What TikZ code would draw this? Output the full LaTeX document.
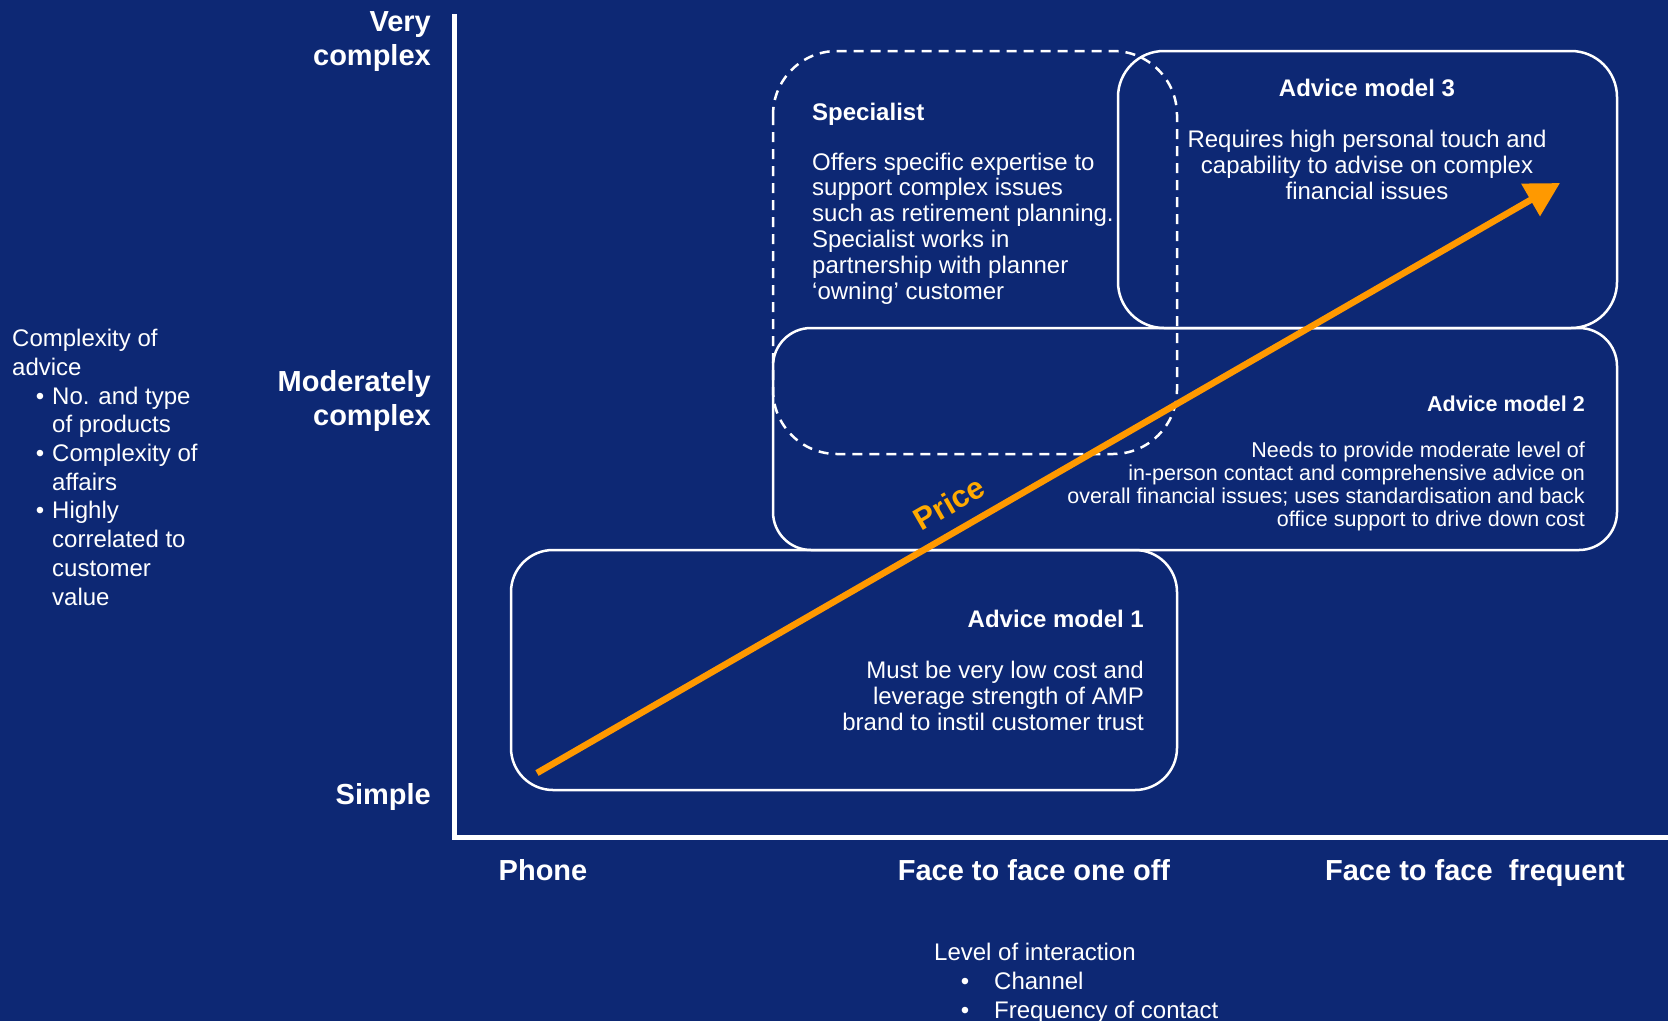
\documentclass[tikz,border=0pt]{standalone}
\usepackage{fontspec}
\setmainfont{Liberation Sans}
\usetikzlibrary{arrows.meta}

\definecolor{navy}{RGB}{13,40,116}
\definecolor{amber}{RGB}{255,153,0}
\definecolor{gold}{RGB}{255,170,0}

% bullet hung left of an indented line
\newcommand{\hangbul}[2]{\hspace*{#1}\llap{\textbullet\hspace{#2}}}

\begin{document}
\begin{tikzpicture}[
  x=1pt, y=-1pt,
  > = {Triangle[length=34pt, width=36pt]},
  white,
  txt/.style={font=\fontsize{24}{25.8}\selectfont, inner sep=0pt},
  bodysm/.style={font=\fontsize{21.5}{22.7}\selectfont, inner sep=0pt},
  boxhead/.style={font=\fontsize{24}{25.8}\selectfont\bfseries, inner sep=0pt},
  axislbl/.style={font=\fontsize{29}{34}\selectfont\bfseries, inner sep=0pt},
  modelbox/.style={draw=white, line width=2.5pt},
  arr/.style={->, draw=amber, line width=6.5pt}
]
  \fill[navy] (0,0) rectangle (1668,1021);
  \useasboundingbox (0,0) rectangle (1668,1021);

  % axes
  \coordinate (ytop) at (454,14);
  \coordinate (org)  at (454,837);
  \coordinate (xend) at (1668,837);
  \draw[line width=5pt] (ytop) -- (org) -- (xend);

  % multi-line nodes sit on the baseline of their last line
  \node[axislbl, anchor=base east, align=right] (vcx) at (431,65) {Very\\complex};
  \node[axislbl, anchor=base east, align=right] (mcx) at (431,425) {Moderately\\complex};
  \node[axislbl, anchor=base east] (smp) at (431,804) {Simple};

  \node[axislbl, anchor=base] (phn) at (543,880)  {Phone};
  \node[axislbl, anchor=base] (fto) at (1034,880) {Face to face one off};
  \node[axislbl, anchor=base] (ftf) at (1475,880) {Face to face\ \ frequent};

  % axis captions
  \node[txt, font=\fontsize{24}{28.7}\selectfont, anchor=base west, align=left]
    (cpx) at (12,605) {Complexity of\\advice\\
      \hangbul{40pt}{8pt}No. and type\\\hspace*{40pt}of products\\
      \hangbul{40pt}{8pt}Complexity of\\\hspace*{40pt}affairs\\
      \hangbul{40pt}{8pt}Highly\\\hspace*{40pt}correlated to\\
      \hspace*{40pt}customer\\\hspace*{40pt}value};
  \node[txt, font=\fontsize{24}{29}\selectfont, anchor=base west, align=left]
    (loi) at (934,1018) {Level of interaction\\
      \hangbul{60pt}{25pt}Channel\\
      \hangbul{60pt}{25pt}Frequency of contact};

  % model boxes
  \draw[modelbox, dash pattern=on 10pt off 7pt, rounded corners=64pt]
    (773,51) rectangle (1177,454);
  \draw[modelbox, rounded corners=46pt] (1118,51) rectangle (1617,328);
  \draw[modelbox, rounded corners=38pt] (773,328) rectangle (1617,550);
  \draw[modelbox, rounded corners=42pt] (511,550) rectangle (1177,790);

  \node[boxhead, anchor=base west] (spc) at (812,120) {Specialist};
  \node[txt, anchor=base west, align=left] (spcb) at (812,299)
    {Offers specific expertise to\\support complex issues\\such as retirement planning.\\
     Specialist works in\\partnership with planner\\`owning' customer};

  \node[boxhead, anchor=base] (am3) at (1367,96) {Advice model 3};
  \node[txt, anchor=base, align=center] (am3b) at (1367,199)
    {Requires high personal touch and\\capability to advise on complex\\financial issues};

  \node[bodysm, font=\fontsize{21.5}{22.7}\selectfont\bfseries, anchor=base east]
    (am2) at (1585,411) {Advice model 2};
  \node[bodysm, anchor=base east, align=right] (am2b) at (1585,526)
    {Needs to provide moderate level of\\in-person contact and comprehensive advice on\\
     overall financial issues; uses standardisation and back\\office support to drive down cost};

  \node[boxhead, anchor=base east] (am1) at (1144,627) {Advice model 1};
  \node[txt, anchor=base east, align=right] (am1b) at (1144,730)
    {Must be very low cost and\\leverage strength of AMP\\brand to instil customer trust};

  % price rises with interaction and complexity
  \coordinate (lo) at (537,773);
  \coordinate (hi) at (1560,183);
  \draw[arr] (lo) -- (hi);
  \node[axislbl, font=\fontsize{31}{34}\selectfont\bfseries, text=gold, rotate=30]
    (prc) at (949,503) {Price};
\end{tikzpicture}
\end{document}
